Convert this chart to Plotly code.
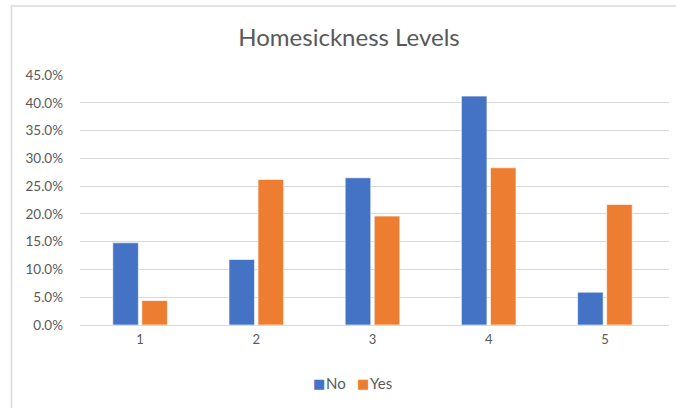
import plotly.graph_objects as go

categories = ["1", "2", "3", "4", "5"]
no_values = [0.148, 0.118, 0.265, 0.412, 0.059]
yes_values = [0.044, 0.262, 0.196, 0.283, 0.217]
y_ticks = [0.0, 0.05, 0.10, 0.15, 0.20, 0.25, 0.30, 0.35, 0.40, 0.45]
series_names = ["No", "Yes"]
series_colors = ["#4472C4", "#ED7D31"]

FONT = "Lato, 'Open Sans', sans-serif"
GRAY = "#595959"

fig = go.Figure()
for name, vals, col in zip(series_names, [no_values, yes_values], series_colors):
    fig.add_trace(go.Bar(name=name, x=categories, y=vals,
                         marker=dict(color=col, line=dict(color="rgba(255,255,255,0.6)", width=1))))

L, R, T, B = 80, 7, 75, 83
W, H = 676, 408
pw = W - L - R
ph = H - T - B
cat_px = 116.25

def px_x(x):
    return (x - L) / pw

def px_y(y):
    return (H - B - y) / ph

# legend drawn as text (compact Excel-style legend)
legend_ann = []
leg_y = px_y(383)
sq_x = [318.5, 362.5]
txt_x = [324, 368]
for name, col, sx, tx in zip(series_names, series_colors, sq_x, txt_x):
    legend_ann.append(dict(text="■", x=px_x(sx), y=leg_y, xref="paper", yref="paper",
                           xanchor="center", yanchor="middle", showarrow=False,
                           font=dict(family="DejaVu Sans", size=13, color=col)))
    legend_ann.append(dict(text=name, x=px_x(tx), y=leg_y, xref="paper", yref="paper",
                           xanchor="left", yanchor="middle", showarrow=False,
                           font=dict(family=FONT, size=15, color=GRAY)))

fig.update_layout(
    width=W, height=H,
    margin=dict(l=L, r=R, t=T, b=B, pad=0),
    paper_bgcolor="white", plot_bgcolor="white",
    barmode="group", bargap=0.5, bargroupgap=0.12,
    font=dict(family=FONT, color=GRAY, size=13),
    title=dict(text="Homesickness Levels", x=349 / W, xanchor="center",
               y=1 - 38 / H, yanchor="middle",
               font=dict(family=FONT, size=24, color=GRAY)),
    showlegend=False,
    annotations=legend_ann,
    xaxis=dict(showgrid=False, showline=False, zeroline=False, ticks="",
               range=[-0.5 - 2 / cat_px, 4.5 + 6 / cat_px],
               tickfont=dict(family=FONT, size=13, color=GRAY), ticklabelstandoff=5),
    yaxis=dict(range=[0, 0.45], tickvals=y_ticks, tickformat=".1%",
               showgrid=True, gridcolor="#d9d9d9", gridwidth=1,
               zeroline=True, zerolinecolor="#d9d9d9", zerolinewidth=1,
               showline=False, ticks="", ticklabelstandoff=16,
               tickfont=dict(family=FONT, size=13.5, color=GRAY)),
    shapes=[
        dict(type="rect", xref="paper", yref="paper",
             x0=px_x(11.5), x1=px_x(700), y0=px_y(430), y1=px_y(6),
             line=dict(color="#d9d9d9", width=1.5), fillcolor="rgba(0,0,0,0)", layer="above"),
    ],
)

fig.write_html("out.html", config={"displayModeBar": False},
               post_script="document.body.style.margin='0';document.body.style.overflow='hidden';")
